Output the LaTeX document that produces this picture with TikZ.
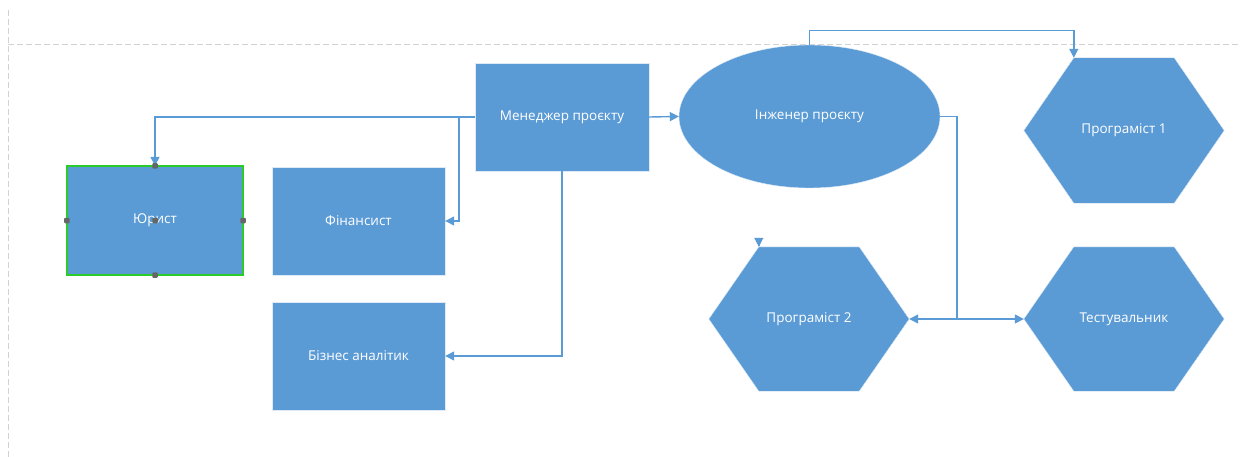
\documentclass[tikz,border=0pt]{standalone}
\usepackage{fontspec}
\setmainfont{Open Sans}
\usetikzlibrary{arrows.meta,shapes.geometric,calc}
\definecolor{boxblue}{HTML}{5B9BD5}
\definecolor{guide}{HTML}{D2D2D2}
\definecolor{selgreen}{HTML}{2BCB2B}
\definecolor{handle}{HTML}{666666}

\begin{document}
\begin{tikzpicture}[x=1pt,y=-1pt,
  label font/.style={text=white, font=\fontsize{13.5}{15}\selectfont},
  rolebox/.style={rectangle, fill=boxblue, draw=white!80!boxblue, line width=0.4pt,
    inner sep=0pt, label font},
  oval/.style={ellipse, fill=boxblue, draw=white!80!boxblue, line width=0.4pt,
    inner sep=0pt, label font},
  hexframe/.style={rectangle, draw=none, inner sep=0pt, label font},
  hexfill/.style={fill=boxblue, draw=white!80!boxblue, line width=0.4pt},
  conn/.style={draw=boxblue, line width=1.4pt, -{Triangle[length=9pt,width=9pt]}},
  plainconn/.style={draw=boxblue, line width=1.4pt},
  guideline/.style={draw=guide, line width=0.9pt, dash pattern=on 6pt off 3pt},
  grip/.style={rectangle, rounded corners=1pt, fill=handle, minimum size=5.5pt, inner sep=0pt}]

\useasboundingbox (0,0) rectangle (1241,457);

% page guides
\draw[guideline] (8,44) -- (1241,44);
\draw[guideline] (8,10) -- (8,457);

% rectangular roles
\node[rolebox, minimum width=176pt, minimum height=109pt] (yur) at (155,220.5) {Юрист};
\node[rolebox, minimum width=173pt, minimum height=108pt] (fin) at (358.5,221) {Фінансист};
\node[rolebox, minimum width=173pt, minimum height=108pt] (biz) at (358.5,356) {Бізнес аналітик};
\node[rolebox, minimum width=174pt, minimum height=108pt] (mgr) at (562,117) {Менеджер проєкту};

% engineer
\node[oval, minimum width=261pt, minimum height=143pt] (eng) at (809.5,116.5) {Інженер проєкту};

% hexagonal roles: frame nodes carry the anchors, the outline is drawn from them
\node[hexframe, minimum width=200pt, minimum height=145pt] (p1) at (1124,130.5) {};
\node[hexframe, minimum width=200pt, minimum height=144pt] (p2) at (809,319) {};
\node[hexframe, minimum width=200pt, minimum height=144pt] (tst) at (1124,319) {};
\foreach \h in {p1,p2,tst}{
  \path[hexfill] (\h.west) -- ($(\h.north west)+(50,0)$) -- ($(\h.north east)+(-50,0)$)
    -- (\h.east) -- ($(\h.south east)+(-50,0)$) -- ($(\h.south west)+(50,0)$) -- cycle;
}
\node[label font] at (p1.center) {Програміст 1};
\node[label font] at (p2.center) {Програміст 2};
\node[label font] at (tst.center) {Тестувальник};

\coordinate (p1tl) at ($(p1.north west)+(50,0)$);
\coordinate (p2tl) at ($(p2.north west)+(50,0)$);

% connectors from the manager
\coordinate (split) at (459,117);
\draw[conn] (mgr.west) -| (yur.north);
\draw[conn] (split) |- (fin.east);
\draw[conn] (mgr.south) |- (biz.east);
\draw[conn] (mgr.east) -- (eng.west);

% connectors from the engineer
\draw[conn] (eng.north) -- ++(0,-14) -| (p1tl);
\coordinate (fork) at (957,319);
\draw[plainconn] (eng.east) -| (fork);
\draw[conn] (fork) -- (p2.east);
\draw[conn] (fork) -- (tst.west);
\draw[conn] ($(p2tl)+(0,-1)$) -- (p2tl);

% selection frame with grips
\draw[selgreen, line width=2pt] (yur.north west) rectangle (yur.south east);
\foreach \a in {north,south,east,west,center}{
  \node[grip] at (yur.\a) {};
}
\end{tikzpicture}
\end{document}
